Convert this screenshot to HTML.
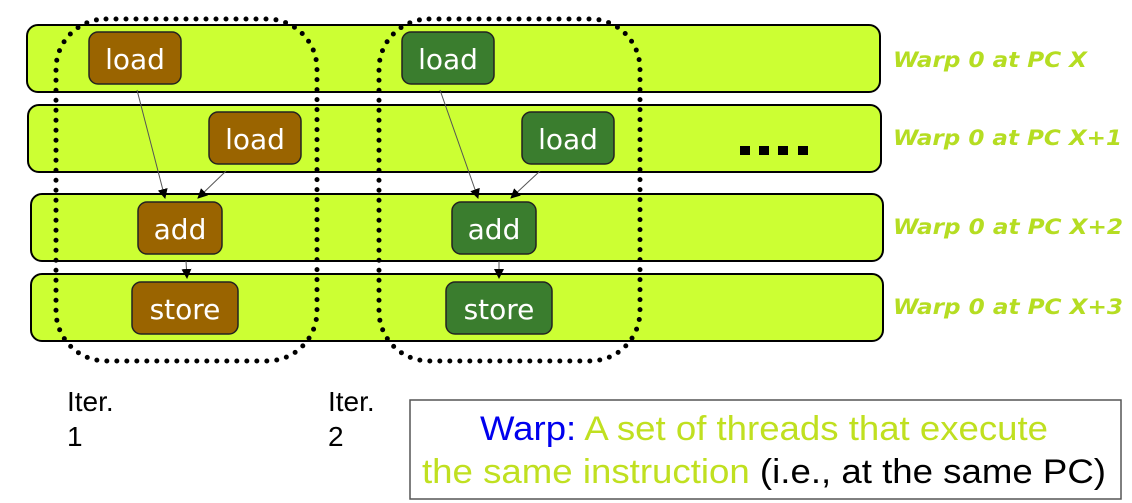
<!DOCTYPE html>
<html><head><meta charset="utf-8"><style>
html,body{margin:0;padding:0;background:#fff;width:1132px;height:503px;overflow:hidden}
</style></head><body>
<svg width="1132" height="503" viewBox="0 0 1132 503" xmlns="http://www.w3.org/2000/svg">
<defs>
<marker id="ah" markerWidth="10" markerHeight="10" refX="9" refY="5" orient="auto" markerUnits="userSpaceOnUse">
<path d="M0,0 L10,5 L0,10 z" fill="#000"/></marker>
</defs>
<g fill="#ccff33" stroke="#000" stroke-width="2">
<rect x="27" y="25" width="853" height="67" rx="11"/>
<rect x="28" y="105" width="853" height="67" rx="11"/>
<rect x="31" y="194" width="852" height="67" rx="11"/>
<rect x="31" y="274" width="852" height="67" rx="11"/>
</g>
<g fill="#000">
<rect x="740" y="146" width="10" height="9"/><rect x="759" y="146" width="10" height="9"/>
<rect x="778" y="146" width="10" height="9"/><rect x="798" y="146" width="10" height="9"/>
</g>
<g font-family="DejaVu Sans, sans-serif" font-weight="bold" font-style="italic" font-size="21" fill="#b5dd22">
<text x="893" y="67" textLength="194" lengthAdjust="spacingAndGlyphs">Warp 0 at PC X</text>
<text x="893" y="145" textLength="229" lengthAdjust="spacingAndGlyphs">Warp 0 at PC X+1</text>
<text x="893" y="234" textLength="230" lengthAdjust="spacingAndGlyphs">Warp 0 at PC X+2</text>
<text x="893" y="314" textLength="230" lengthAdjust="spacingAndGlyphs">Warp 0 at PC X+3</text>
</g>
<g stroke="#555" stroke-width="1" fill="none" marker-end="url(#ah)">
<line x1="137" y1="90" x2="165" y2="198"/>
<line x1="226" y1="171" x2="198" y2="198"/>
<line x1="186" y1="261" x2="187" y2="278"/>
<line x1="440" y1="90" x2="478" y2="198"/>
<line x1="540" y1="171" x2="511" y2="198"/>
<line x1="499" y1="261" x2="499" y2="278"/>
</g>
<g stroke="#222" stroke-width="1.5" font-family="DejaVu Sans, sans-serif" font-size="28">
<g fill="#9a6400">
<rect x="89" y="32" width="92" height="52" rx="9"/>
<rect x="209" y="112" width="92" height="52" rx="9"/>
<rect x="138" y="202" width="84" height="52" rx="9"/>
<rect x="132" y="282" width="106" height="52" rx="9"/>
</g>
<g fill="#3a7d2e">
<rect x="402" y="32" width="92" height="52" rx="9"/>
<rect x="522" y="112" width="92" height="52" rx="9"/>
<rect x="452" y="202" width="84" height="52" rx="9"/>
<rect x="446" y="282" width="106" height="52" rx="9"/>
</g>
<g fill="#fff" stroke="none" text-anchor="middle">
<text x="135" y="69">load</text><text x="255" y="149">load</text>
<text x="180" y="239">add</text><text x="185" y="319">store</text>
<text x="448" y="69">load</text><text x="568" y="149">load</text>
<text x="494" y="239">add</text><text x="499" y="319">store</text>
</g>
</g>
<g fill="none" stroke="#000" stroke-width="5" stroke-linecap="round" stroke-dasharray="0 10">
<rect x="56" y="19" width="261" height="342" rx="50"/>
<rect x="379" y="19" width="261" height="342" rx="50"/>
</g>
<g font-family="Liberation Sans, sans-serif" font-size="28" fill="#000">
<text x="67" y="411">Iter.</text><text x="67" y="446">1</text>
<text x="328" y="411">Iter.</text><text x="328" y="446">2</text>
</g>
<rect x="410" y="400" width="711" height="99" fill="#fff" stroke="#555" stroke-width="1.5"/>
<g font-family="Liberation Sans, sans-serif" font-size="34">
<text x="480" y="440" textLength="568" lengthAdjust="spacingAndGlyphs"><tspan fill="#0000ee">Warp:</tspan><tspan fill="#c0e020"> A set of threads that execute</tspan></text>
<text x="422" y="483" textLength="684" lengthAdjust="spacingAndGlyphs"><tspan fill="#c0e020">the same instruction </tspan><tspan fill="#000">(i.e., at the same PC)</tspan></text>
</g>
</svg>
</body></html>
